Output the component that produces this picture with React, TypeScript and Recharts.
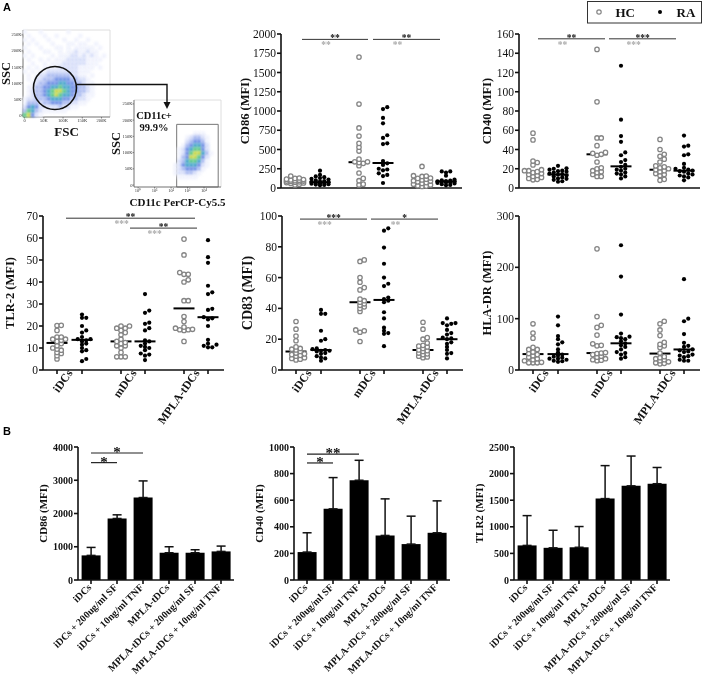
import React from 'react';
import {
  ScatterChart,
  Scatter,
  BarChart,
  Bar,
  ErrorBar,
  XAxis,
  YAxis,
  ReferenceLine,
  ReferenceArea,
  ReferenceDot,
} from 'recharts';

const SERIF = '"Liberation Serif", serif';
const GREY = '#858585';
const INK = '#111';

// panel A, six columns per plot: iDCs HC/RA, mDCs HC/RA, MPLA-tDCs HC/RA
const COLUMN_X = [0.56, 1.56, 3.12, 4.08, 5.64, 6.6];
const GROUP_NAMES = ['iDCs', 'mDCs', 'MPLA-tDCs'];

const CD86_COLUMNS = [
  [155, 130, 125, 115, 110, 105, 100, 95, 90, 90, 85, 80, 75, 70, 65, 60, 50, 40],
  [225, 170, 150, 140, 130, 120, 110, 100, 90, 85, 80, 75, 70, 65, 60, 55, 50, 45, 40, 35],
  [1700, 1090, 780, 675, 580, 530, 480, 375, 340, 340, 330, 320, 290, 195, 125, 95, 50, 40],
  [1050, 1025, 910, 840, 685, 650, 580, 570, 350, 320, 300, 250, 240, 230, 190, 170, 155, 65],
  [280, 160, 155, 150, 130, 125, 115, 105, 95, 90, 80, 70, 60, 50, 40, 30, 25, 20],
  [215, 215, 200, 160, 110, 100, 95, 90, 85, 85, 80, 75, 70, 65, 60, 50, 40, 35],
];
const CD86_MEDIANS = [90, 75, 335, 325, 95, 85];

const CD40_COLUMNS = [
  [57, 50, 28, 26.5, 24, 19, 18, 18, 17, 16, 15, 14, 13, 12, 11, 10, 9, 8.5],
  [23, 20.5, 20, 19, 18, 17.5, 17, 16, 15, 14.5, 14, 13, 12, 11, 10, 9.5, 8.5, 7, 6.5],
  [144, 89.5, 52, 52, 44, 37, 36, 35, 34, 27, 21, 20, 18, 17, 16, 14, 12, 12],
  [127, 71, 54, 48, 37, 34, 29, 27, 24, 22, 20, 19, 18, 16, 15, 14, 12, 10],
  [50.5, 40, 35, 33, 30, 27, 23, 22, 21, 20, 19, 18, 17, 15, 14, 13, 9, 8],
  [54.5, 44, 43, 35, 34, 25, 21, 20, 19, 18, 17.5, 17, 15, 14, 13, 12, 11, 8],
];
const CD40_MEDIANS = [17, 14, 35, 22.5, 19, 18];

const TLR2_COLUMNS = [
  [20.3, 20.2, 18, 15, 15, 14, 14, 13.5, 13, 12, 11, 10, 9.5, 9, 8, 7.5, 6.5, 5],
  [25.2, 23.7, 23.7, 20, 18, 17, 15, 14, 14, 13.5, 13, 12, 11.5, 10, 9, 8.5, 5, 4],
  [20, 20, 19, 19, 18, 17, 16, 14, 13, 12.5, 12, 11, 11, 10, 8, 6, 6, 6],
  [34.5, 27, 26, 21.5, 21, 19, 18, 13.5, 13, 12, 11, 10.5, 10, 9, 7.5, 7, 6.5, 4.5],
  [59.5, 52.3, 44.3, 43.5, 43.5, 41, 40, 31.5, 31.5, 24.3, 22, 19.5, 19, 18.5, 18.3, 18.3, 18, 13],
  [59, 51.3, 48.7, 38.3, 35.3, 34.5, 27.8, 27.3, 24, 23.5, 23, 20, 13.7, 12, 11.5, 11, 10.3, 10.3],
];
const TLR2_MEDIANS = [12.3, 13.7, 13, 13, 28, 24];

const CD83_COLUMNS = [
  [31.5, 26.5, 22, 19, 15, 14, 13.5, 13, 12, 11, 10.5, 10, 9.5, 9, 8, 7.5, 7, 6.5],
  [39, 36.5, 36.5, 25.5, 20, 19, 14, 13.5, 13, 12.5, 12.5, 12, 11, 10.5, 9, 8, 7.5, 6],
  [71.5, 70.5, 60, 57, 53.5, 52, 46, 45, 44, 43, 42, 41, 40, 38, 26, 25.5, 24.5, 18.5],
  [92, 90.5, 79.5, 69, 60, 56, 54.5, 47, 46, 45, 44, 37.5, 33.5, 27.5, 25.5, 24, 23.5, 15.5],
  [31, 26.5, 21, 20, 17.5, 16, 15.5, 15, 14, 13, 12.5, 12, 11, 10.5, 10, 9, 8.5, 8],
  [33.5, 30.5, 30.5, 30, 29, 26, 24, 23, 21, 20.5, 20, 18, 17, 15, 13, 11, 10.5, 7.5],
];
const CD83_MEDIANS = [12, 13, 44, 45.5, 13, 20];

const HLA_COLUMNS = [
  [90, 72, 62, 44, 40, 40, 35, 32, 30, 28, 25, 22, 20, 18, 15, 14, 14, 14],
  [104, 87, 66, 60, 54, 50, 40, 34, 30, 28, 26, 24, 22, 22, 20, 18, 17, 16],
  [236, 104, 87, 83, 68, 51, 48, 47, 34, 33, 32, 30, 27, 25, 22, 20, 19, 18],
  [243, 182, 108, 71, 65, 64, 62, 60, 56, 52, 48, 45, 40, 35, 33, 30, 25, 22],
  [95, 90, 78, 67, 54, 50, 47, 44, 33, 26, 24, 22, 20, 18, 16, 14, 13, 12],
  [177, 100, 95, 70, 53, 47, 45, 40, 38, 36, 35, 30, 28, 27, 25, 20, 18, 18],
];
const HLA_MEDIANS = [31, 31, 33, 52, 32, 40];

// [from, to, value, black stars, grey stars]
const CD86_BRACKETS = [[0.84, 3.48, 1930, '**', '**'], [3.68, 6.36, 1930, '**', '**']];
const CD40_BRACKETS = [[0.76, 3.44, 155, '**', '**'], [3.6, 6.28, 155, '***', '***']];
const TLR2_BRACKETS = [[0.92, 6.08, 69, '**', '***'], [3.48, 6.16, 64.5, '**', '***']];
const CD83_BRACKETS = [[0.72, 3.4, 98, '***', '***'], [3.56, 6.24, 98, '*', '**']];

// panel B
const BAR_NAMES = [
  'iDCs',
  'iDCs + 200ug/ml SF',
  'iDCs + 10ng/ml TNF',
  'MPLA-tDCs',
  'MPLA-tDCs + 200ug/ml SF',
  'MPLA-tDCs + 10ng/ml TNF',
];
const BAR_CD86_MEANS = [740, 1850, 2480, 820, 820, 860];
const BAR_CD86_TOPS = [980, 1960, 2980, 1000, 910, 1020];
const BAR_CD40_MEANS = [210, 535, 750, 335, 270, 355];
const BAR_CD40_TOPS = [355, 770, 900, 610, 480, 595];
const BAR_TLR2_MEANS = [650, 605, 615, 1530, 1770, 1810];
const BAR_TLR2_TOPS = [1210, 935, 1005, 2150, 2330, 2115];

// flow plots, density, one digit per cell, top row first
const GATE_DENSITY = [
  '1000100000010000000000',
  '0100010010000010000000',
  '1010001000100100100000',
  '0101000100011011001000',
  '1000100011010111110100',
  '0100011001011211211000',
  '1010000101112212121010',
  '0100101011122222111100',
  '0010010111222222111000',
  '0101011112222211110100',
  '1010112222222211100000',
  '0101223333332211010000',
  '0102233344443322100000',
  '0012334445544332110000',
  '0113344556554433210000',
  '0123345677654433210000',
  '0123345676554332110000',
  '1223334555443322100000',
  '1333233444332211000000',
  '2454222223221100000000',
  '3653211111100000000000',
  '6742100000000000000000',
];
const CD11C_DENSITY = [
  '0000000000000000000000',
  '0000000000000000000000',
  '0000000000000000000000',
  '0000000000000000000000',
  '0000000000000000000000',
  '0000000000000000000000',
  '0000000000000000000000',
  '0000000000000000000000',
  '0000000000000001110000',
  '0000000000000123321000',
  '0000000000000234431000',
  '0000000000001345542000',
  '0000000000012456642000',
  '0000000000012467753100',
  '0000000000013477642000',
  '0000000000023566531000',
  '0000000000124555421000',
  '0000000000123444310000',
  '0000000000122332100000',
  '0000000000011111000000',
  '0000000000000000000000',
  '0000000000000000000000',
];
const DENSITY_COLORS = ['', '#f1f3fd', '#d8dff9', '#aebdf1', '#7391e6', '#4aa7cc', '#5ec98c', '#c8d84e'];
const FSC_TICKS = [0, 50, 100, 150, 200];
const SSC_TICKS = [0, 50, 100, 150, 200, 250];
const LOG_TICKS = [0, 1, 2, 3, 4];
const LOG_LABELS = ['10⁰', '10¹', '10²', '10³', '10⁴'];

const SLOTS = [0, 1, -1, 2, -2];

function swarm(values: number[], col: number, pxPerValue: number) {
  const placed: { x: number; y: number; slot: number }[] = [];
  values
    .slice()
    .sort((a, b) => a - b)
    .forEach((v, n) => {
      const free = SLOTS.find((s) => !placed.some((p) => p.slot === s && Math.abs(p.y - v) * pxPerValue < 3));
      // crowded rows just overlap, Prism does that as well
      const slot = free === undefined ? SLOTS[n % SLOTS.length] : free;
      placed.push({ x: col + slot * 0.17, y: v, slot });
    });
  return placed;
}

function GroupTick({ x, y, index }: any) {
  if (index % 2) return null;
  return (
    <text
      x={x + 16}
      y={y - 3}
      transform={`rotate(-55 ${x + 16} ${y - 3})`}
      textAnchor="end"
      fontFamily={SERIF}
      fontWeight="bold"
      fontSize={11.7}
      fill={INK}
    >
      {GROUP_NAMES[index / 2]}
    </text>
  );
}

function StarLabel({ viewBox, black, grey }: any) {
  const mid = viewBox.x + viewBox.width / 2;
  return (
    <g fontFamily={SERIF} fontWeight="bold" fontSize={9.5} textAnchor="middle">
      <text x={mid} y={viewBox.y + 2} fill={INK}>{black}</text>
      <text x={mid - 9} y={viewBox.y + 9} fill="#aaa">{grey}</text>
    </g>
  );
}

const hollowDot = (p: any) => (
  <circle cx={p.cx} cy={p.cy} r={2.2} fill="#fff" stroke={GREY} strokeWidth={1.3} />
);
const solidDot = (p: any) => <circle cx={p.cx} cy={p.cy} r={2.1} fill="#000" />;

function DotPanel({ x, y, yMax, ticks, title, titleSize = 12.5, titleGap = 33, columns, medians, brackets = [], named = false }: any) {
  const w = 181;
  const h = 154;
  const pxPerValue = h / yMax;
  return (
    <div style={{ position: 'absolute', left: x - 45, top: y - 10 }}>
      <ScatterChart width={w + 45 + 8} height={h + 10 + 62} margin={{ top: 10, right: 8, bottom: 0, left: 0 }}>
        <XAxis
          type="number"
          dataKey="x"
          domain={[0, 7.24]}
          ticks={COLUMN_X}
          interval={0}
          height={62}
          tickSize={4}
          tick={named ? <GroupTick /> : false}
          stroke={INK}
          strokeWidth={1.6}
        />
        <YAxis
          type="number"
          dataKey="y"
          domain={[0, yMax]}
          ticks={ticks}
          interval={0}
          width={45}
          tickSize={4}
          tickMargin={1}
          stroke={INK}
          strokeWidth={1.6}
          tick={{ fontFamily: SERIF, fontSize: 11.5, fill: INK }}
          label={{
            value: title,
            angle: -90,
            position: 'insideLeft',
            offset: 45 - titleGap,
            style: { textAnchor: 'middle', fontFamily: SERIF, fontWeight: 'bold', fontSize: titleSize, fill: INK },
          }}
        />
        {columns.map((values: number[], i: number) => (
          <Scatter
            key={i}
            data={swarm(values, COLUMN_X[i], pxPerValue)}
            shape={i % 2 ? solidDot : hollowDot}
            isAnimationActive={false}
          />
        ))}
        {medians.map((m: number, i: number) => (
          <ReferenceLine
            key={`median-${i}`}
            segment={[{ x: COLUMN_X[i] - 0.42, y: m }, { x: COLUMN_X[i] + 0.42, y: m }]}
            stroke="#000"
            strokeWidth={2}
          />
        ))}
        {brackets.map((b: any[], i: number) => (
          <ReferenceLine
            key={`bracket-${i}`}
            segment={[{ x: b[0], y: b[2] }, { x: b[1], y: b[2] }]}
            stroke="#333"
            strokeWidth={1}
            label={(p: any) => <StarLabel {...p} black={b[3]} grey={b[4]} />}
          />
        ))}
      </ScatterChart>
    </div>
  );
}

function BarTick({ x, y, payload }: any) {
  return (
    <text
      x={x + 1}
      y={y + 2}
      transform={`rotate(-45 ${x + 1} ${y + 2})`}
      textAnchor="end"
      fontFamily={SERIF}
      fontWeight="bold"
      fontSize={10}
      fill={INK}
    >
      {payload.value}
    </text>
  );
}

function BarPanel({ x, yMax, ticks, title, means, tops, brackets = [] }: any) {
  const y = 447;
  const w = 156;
  const h = 133;
  const rows = BAR_NAMES.map((name, i) => ({ name, mean: means[i], err: [0, tops[i] - means[i]] }));
  return (
    <div style={{ position: 'absolute', left: x - 45, top: y - 10 }}>
      <BarChart
        width={w + 45 + 8}
        height={h + 10 + 100}
        data={rows}
        margin={{ top: 10, right: 8, bottom: 0, left: 0 }}
        barCategoryGap={3.6}
      >
        <XAxis
          dataKey="name"
          interval={0}
          height={100}
          tickSize={4}
          tick={<BarTick />}
          stroke={INK}
          strokeWidth={1.6}
        />
        <YAxis
          domain={[0, yMax]}
          ticks={ticks}
          interval={0}
          width={45}
          tickSize={4}
          tickMargin={1}
          stroke={INK}
          strokeWidth={1.6}
          tick={{ fontFamily: SERIF, fontWeight: 'bold', fontSize: 10, fill: INK }}
          label={{
            value: title,
            angle: -90,
            position: 'insideLeft',
            offset: 10,
            style: { textAnchor: 'middle', fontFamily: SERIF, fontWeight: 'bold', fontSize: 11, fill: INK },
          }}
        />
        <Bar dataKey="mean" fill="#000" isAnimationActive={false}>
          <ErrorBar dataKey="err" direction="y" width={4.5} stroke="#111" strokeWidth={1.5} />
        </Bar>
        {brackets.map((b: any[], i: number) => (
          <ReferenceLine
            key={i}
            segment={[{ x: BAR_NAMES[b[0]], y: b[2] }, { x: BAR_NAMES[b[1]], y: b[2] }]}
            stroke="#222"
            strokeWidth={1.2}
            label={(p: any) => (
              <text
                x={p.viewBox.x + p.viewBox.width / 2}
                y={p.viewBox.y + 4}
                textAnchor="middle"
                fontFamily={SERIF}
                fontWeight="bold"
                fontSize={15}
                fill={INK}
              >
                {b[3]}
              </text>
            )}
          />
        ))}
      </BarChart>
    </div>
  );
}

function densityPoints(rows: string[], xDomain: number[], yDomain: number[]) {
  const points: { x: number; y: number; level: number }[] = [];
  rows.forEach((row, r) => {
    row.split('').forEach((ch, c) => {
      const level = Number(ch);
      if (!level) return;
      points.push({
        x: xDomain[0] + ((c + 0.5) / row.length) * (xDomain[1] - xDomain[0]),
        y: yDomain[1] - ((r + 0.5) / rows.length) * (yDomain[1] - yDomain[0]),
        level,
      });
    });
  });
  return points;
}

const densityCell = (p: any) => (
  <rect
    x={p.cx - 2.2}
    y={p.cy - 2.2}
    width={4.4}
    height={4.4}
    fill={DENSITY_COLORS[p.level ?? p.payload?.level]}
    style={{ filter: 'blur(1px)' }}
  />
);

function FlowPlot({ x, y, density, xDomain, yDomain, xTicks, xFormat, xTitle, xTitleSize, yTitleOffset, children }: any) {
  const w = 87;
  const h = 87;
  return (
    <div style={{ position: 'absolute', left: x - 25, top: y - 2 }}>
      <ScatterChart width={w + 25 + 15} height={h + 2 + 30} margin={{ top: 2, right: 15, bottom: 0, left: 0 }}>
        <XAxis
          type="number"
          dataKey="x"
          domain={xDomain}
          ticks={xTicks}
          interval={0}
          height={30}
          tickSize={1.5}
          tickMargin={0}
          tickFormatter={xFormat}
          stroke="#555"
          strokeWidth={0.7}
          tick={{ fontFamily: SERIF, fontSize: 4.5, fill: '#333' }}
          label={{
            value: xTitle,
            position: 'insideBottom',
            offset: 11,
            style: { fontFamily: SERIF, fontWeight: 'bold', fontSize: xTitleSize, fill: INK },
          }}
        />
        <YAxis
          type="number"
          dataKey="y"
          domain={yDomain}
          ticks={SSC_TICKS}
          interval={0}
          width={25}
          tickSize={1.5}
          tickMargin={0}
          tickFormatter={(v: number) => (v ? `${v}K` : '0')}
          stroke="#555"
          strokeWidth={0.7}
          tick={{ fontFamily: SERIF, fontSize: 4.5, fill: '#333' }}
          label={{
            value: 'SSC',
            angle: -90,
            position: 'insideLeft',
            offset: yTitleOffset,
            style: { textAnchor: 'middle', fontFamily: SERIF, fontWeight: 'bold', fontSize: 12.5, fill: INK },
          }}
        />
        <ReferenceArea x1={xDomain[0]} x2={xDomain[1]} y1={yDomain[0]} y2={yDomain[1]} fill="none" stroke="#d5d5d5" strokeWidth={0.8} />
        <Scatter data={densityPoints(density, xDomain, yDomain)} shape={densityCell} isAnimationActive={false} />
        {children}
      </ScatterChart>
    </div>
  );
}

export default function App() {
  return (
    <div
      style={{
        position: 'absolute',
        left: 0,
        top: 0,
        width: 708,
        height: 681,
        background: '#fff',
        overflow: 'hidden',
        filter: 'blur(0.3px)',
      }}
    >
      <div style={{ position: 'absolute', left: 3, top: 1, font: 'bold 11px "Liberation Sans", sans-serif' }}>A</div>
      <div style={{ position: 'absolute', left: 3, top: 425, font: 'bold 11px "Liberation Sans", sans-serif' }}>B</div>

      <FlowPlot
        x={23}
        y={30}
        density={GATE_DENSITY}
        xDomain={[-4, 222]}
        yDomain={[-6, 265]}
        xTicks={FSC_TICKS}
        xFormat={(v: number) => (v ? `${v}K` : '0')}
        xTitle="FSC"
        xTitleSize={13}
        yTitleOffset={8}
      >
        <ReferenceDot x={79} y={84} r={21.5} fill="none" stroke="#111" strokeWidth={1.5} />
      </FlowPlot>
      <FlowPlot
        x={134}
        y={100}
        density={CD11C_DENSITY}
        xDomain={[-0.25, 5.03]}
        yDomain={[-6, 262]}
        xTicks={LOG_TICKS}
        xFormat={(v: number) => LOG_LABELS[v]}
        xTitle="CD11c PerCP-Cy5.5"
        xTitleSize={11}
        yTitleOffset={7}
      >
        <ReferenceArea x1={2.34} x2={4.86} y1={-6} y2={187} fill="none" stroke="#777" strokeWidth={1} />
      </FlowPlot>

      <svg width={708} height={681} style={{ position: 'absolute', left: 0, top: 0, pointerEvents: 'none' }}>
        <path d="M77 84.5H167V103" fill="none" stroke="#111" strokeWidth={1.4} />
        <path d="M163.5 102H170.5L167 109Z" fill="#111" />
        <g fontFamily={SERIF} fontWeight="bold" fontSize={10.5} textAnchor="middle" fill={INK}>
          <text x={154} y={119}>CD11c+</text>
          <text x={154} y={131}>99.9%</text>
        </g>
        <rect x={587.5} y={1.5} width={114} height={21.5} fill="#fff" stroke="#333" strokeWidth={1} />
        <circle cx={599} cy={12} r={2.2} fill="#fff" stroke={GREY} strokeWidth={1.2} />
        <circle cx={660} cy={12} r={2} fill="#000" />
        <g fontFamily={SERIF} fontWeight="bold" fontSize={13} fill={INK}>
          <text x={615.5} y={17}>HC</text>
          <text x={676.5} y={17}>RA</text>
        </g>
      </svg>

      <DotPanel
        x={281}
        y={34}
        yMax={2000}
        ticks={[0, 250, 500, 750, 1000, 1250, 1500, 1750, 2000]}
        title="CD86 (MFI)"
        titleGap={36}
        columns={CD86_COLUMNS}
        medians={CD86_MEDIANS}
        brackets={CD86_BRACKETS}
      />
      <DotPanel
        x={519}
        y={34}
        yMax={160}
        ticks={[0, 20, 40, 60, 80, 100, 120, 140, 160]}
        title="CD40 (MFI)"
        titleGap={32}
        columns={CD40_COLUMNS}
        medians={CD40_MEDIANS}
        brackets={CD40_BRACKETS}
      />
      <DotPanel
        x={43}
        y={216}
        yMax={70}
        ticks={[0, 10, 20, 30, 40, 50, 60, 70]}
        title="TLR-2 (MFI)"
        titleGap={33}
        columns={TLR2_COLUMNS}
        medians={TLR2_MEDIANS}
        brackets={TLR2_BRACKETS}
        named
      />
      <DotPanel
        x={282}
        y={216}
        yMax={100}
        ticks={[0, 20, 40, 60, 80, 100]}
        title="CD83 (MFI)"
        titleSize={14}
        titleGap={35}
        columns={CD83_COLUMNS}
        medians={CD83_MEDIANS}
        brackets={CD83_BRACKETS}
        named
      />
      <DotPanel
        x={519}
        y={216}
        yMax={300}
        ticks={[0, 100, 200, 300]}
        title="HLA-DR (MFI)"
        titleGap={32}
        columns={HLA_COLUMNS}
        medians={HLA_MEDIANS}
        named
      />

      <BarPanel
        x={78}
        yMax={4000}
        ticks={[0, 1000, 2000, 3000, 4000]}
        title="CD86 (MFI)"
        means={BAR_CD86_MEANS}
        tops={BAR_CD86_TOPS}
        brackets={[[0, 2, 3820, '*'], [0, 1, 3530, '*']]}
      />
      <BarPanel
        x={294}
        yMax={1000}
        ticks={[0, 200, 400, 600, 800, 1000]}
        title="CD40 (MFI)"
        means={BAR_CD40_MEANS}
        tops={BAR_CD40_TOPS}
        brackets={[[0, 2, 947, '**'], [0, 1, 880, '*']]}
      />
      <BarPanel
        x={514}
        yMax={2500}
        ticks={[0, 500, 1000, 1500, 2000, 2500]}
        title="TLR2 (MFI)"
        means={BAR_TLR2_MEANS}
        tops={BAR_TLR2_TOPS}
      />
    </div>
  );
}
